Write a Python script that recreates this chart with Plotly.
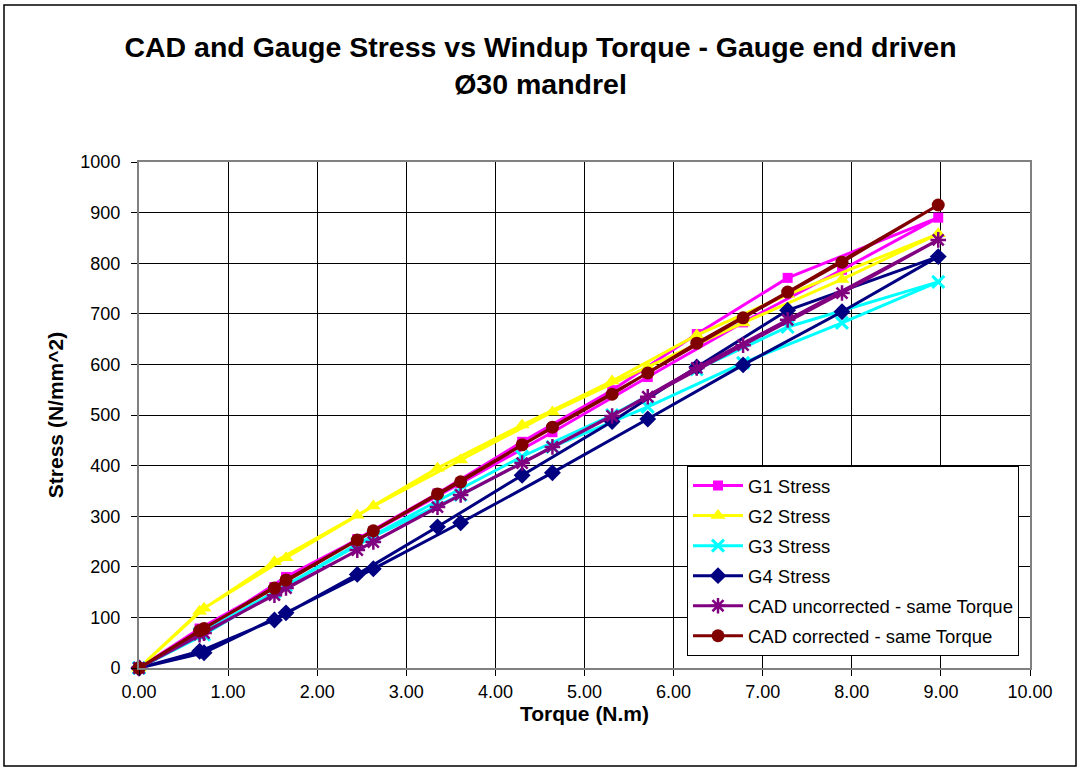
import plotly.graph_objects as go

# Windup torque (N.m): loading up to the peak, then unloading back to zero
torque = [0, 0.68, 1.52, 2.45, 3.35, 4.30, 5.31, 6.26, 7.28, 8.97,
          7.89, 6.78, 5.71, 4.64, 3.61, 2.63, 1.65, 0.73, 0]

# Stress (N/mm^2) for each gauge and the CAD predictions at the same torque
g1_stress = [0, 78, 160, 255, 345, 447, 549, 660, 771, 890,
             787, 683, 575, 466, 365, 270, 180, 75, 0]
g2_stress = [0, 112, 210, 302, 395, 480, 567, 658, 738, 858,
             768, 682, 595, 506, 411, 320, 218, 118, 0]
g3_stress = [0, 68, 150, 245, 330, 418, 500, 590, 674, 763,
             682, 603, 516, 437, 342, 260, 163, 66, 0]
g4_stress = [0, 33, 95, 185, 279, 381, 487, 595, 707, 813,
             704, 599, 492, 386, 287, 196, 109, 30, 0]
cad_uncorrected = [0, 66, 144, 233, 318, 405, 498, 593, 688, 846,
                   741, 638, 536, 437, 342, 249, 158, 69, 0]
cad_corrected = [0, 74, 158, 253, 344, 441, 541, 642, 743, 915,
                 802, 692, 583, 476, 368, 271, 174, 78, 0]

x_ticks = [0, 1, 2, 3, 4, 5, 6, 7, 8, 9, 10]
y_ticks = [0, 100, 200, 300, 400, 500, 600, 700, 800, 900, 1000]

FONT = "Liberation Sans, Arial, sans-serif"

series = [
    ("G1 Stress", g1_stress, "#FF00FF", "square", 10, None),
    ("G2 Stress", g2_stress, "#FFFF00", "triangle-up", 13, None),
    ("G3 Stress", g3_stress, "#00FFFF", "x-thin", 12, 3),
    ("G4 Stress", g4_stress, "#000080", "diamond", 13, None),
    ("CAD uncorrected - same Torque", cad_uncorrected, "#800080", "asterisk", 13, 2.5),
    ("CAD corrected - same Torque", cad_corrected, "#800000", "circle", 13, None),
]

fig = go.Figure()
for i, (name, values, color, symbol, size, mlw) in enumerate(series):
    marker = dict(symbol=symbol, size=size, color=color)
    if mlw is not None:
        marker["line"] = dict(color=color, width=mlw)
    else:
        marker["line"] = dict(width=0)
    fig.add_trace(go.Scatter(
        x=torque, y=values, name=name, mode="lines+markers",
        line=dict(color=color, width=3),
        marker=marker, cliponaxis=False, legendgroup=f"g{i}",
    ))

L, R, T, B = 139, 1030, 162, 668
W, H = 1081, 771

def px_x(p):
    return (p - L) / (R - L)

def px_y(p):
    return (B - p) / (B - T)

fig.update_layout(
    width=W, height=H,
    margin=dict(l=L, r=W - R, t=T, b=H - B),
    paper_bgcolor="white", plot_bgcolor="white",
    font=dict(family=FONT, size=18, color="black"),
    title=dict(
        text="<b>CAD and Gauge Stress vs Windup Torque - Gauge end driven<br>Ø30 mandrel</b>",
        x=0.5, xanchor="center", xref="container", y=1 - 57 / H, yanchor="middle",
        font=dict(family=FONT, size=28.5, color="black"),
    ),
    showlegend=True,
    legend=dict(
        x=px_x(687), y=px_y(466), xanchor="left", yanchor="top",
        bgcolor="white", bordercolor="black", borderwidth=1,
        font=dict(family=FONT, size=18.5, color="black"),
        tracegroupgap=3, itemwidth=50,
    ),
    shapes=[dict(type="rect", xref="paper", yref="paper",
                 x0=px_x(4), x1=px_x(1076), y0=px_y(766), y1=px_y(5),
                 line=dict(color="black", width=1.5), layer="below")],
)

fig.update_xaxes(
    range=[0, 10], tickvals=x_ticks, tickformat=".2f",
    showgrid=True, gridcolor="black", gridwidth=1,
    showline=True, linecolor="#808080", linewidth=2, mirror=True,
    ticks="outside", ticklen=6, tickcolor="black", zeroline=False,
    tickfont=dict(family=FONT, size=18),
    title=dict(text="<b>Torque (N.m)</b>", font=dict(family=FONT, size=21), standoff=3),
)
fig.update_yaxes(
    range=[0, 1000], tickvals=y_ticks,
    showgrid=True, gridcolor="black", gridwidth=1,
    showline=True, linecolor="#808080", linewidth=2, mirror=True,
    ticks="outside", ticklen=6, tickcolor="black", zeroline=False,
    tickfont=dict(family=FONT, size=18), ticklabelstandoff=7,
    title=dict(text="<b>Stress (N/mm^2)</b>", font=dict(family=FONT, size=21), standoff=11),
)

fig.write_html("out.html")
